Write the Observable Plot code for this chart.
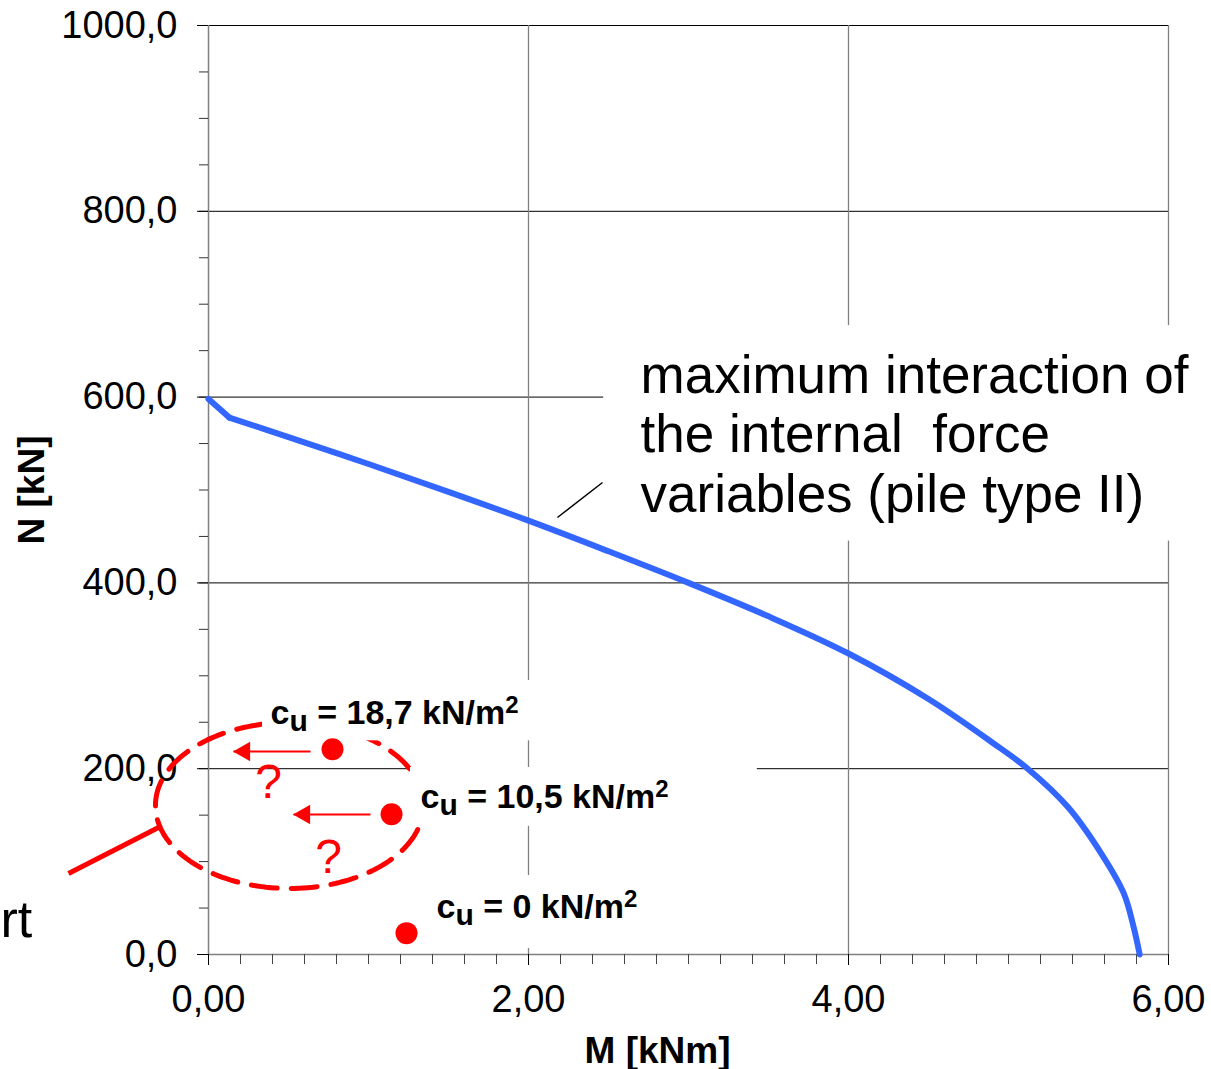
<!DOCTYPE html>
<html><head><meta charset="utf-8">
<script src="https://cdn.jsdelivr.net/npm/d3@7"></script>
<script src="https://cdn.jsdelivr.net/npm/@observablehq/plot@0.6"></script>
<style>body{margin:0;background:#fff} svg{display:block}</style>
</head><body><div id="chart"></div>
<script>
// Interaction curve (M in kNm, N in kN); the first segment is a straight kink
const curveM = [0, 0.13, 0.5, 1, 1.5, 2, 2.5, 3, 3.5, 4, 4.5, 4.9, 5.12, 5.37, 5.575, 5.72, 5.78, 5.82];
const curveN = [598, 578, 557, 528, 498, 467, 434, 400, 364, 324, 275, 228, 200, 159, 110, 66, 31, 0];

// Measured points
const pointM = [0.775, 1.144, 1.2375];
const pointN = [221, 151, 23];
const pointLabelMain = [" = 18,7 kN/m", " = 10,5 kN/m", " = 0 kN/m"];
const labelM = [0.3875, 1.325, 1.425];
const labelN = [274.5, 184, 65.7];
const labelBoxM1 = [0.3375, 1.2625, 1.3875];
const labelBoxM2 = [2.34, 3.43, 2.99];
const labelBoxN1 = [230, 138, 6.5];
const labelBoxN2 = [295, 201.3, 85];

// Arrows
const arrowStartM = [0.6375, 1.0125];
const arrowTipM = [0.156, 0.531];
const arrowN = [218.5, 150.7];

// Question marks
const questionM = [0.375, 0.75];
const questionN = [205, 124];

// Ellipse highlight
const ellipseCenter = {M: 0.506, N: 160.4};
const ellipseRadius = {M: 0.8375, N: 89.3};
const redLeaderM = [-0.875, -0.3125];
const redLeaderN = [87.2, 136.7];

// Annotation
const annotationText = "maximum interaction of\nthe internal  force\nvariables (pile type II)";
const annotationM = 2.7, annotationN = 650;
const annotationBox = {M1: 2.47, M2: 6.3, N1: 445, N2: 677};
const blackLeaderM = [2.181, 2.4625];
const blackLeaderN = [470.4, 508.1];
const cutText = "rt";
const cutM = -1.3, cutN = 58.1;

// Axes
const xMajorTicks = [0, 2, 4, 6];
const xMinorTicks = [0,0.2,0.4,0.6,0.8,1,1.2,1.4,1.6,1.8,2,2.2,2.4,2.6,2.8,3,3.2,3.4,3.6,3.8,4,4.2,4.4,4.6,4.8,5,5.2,5.4,5.6,5.8,6];
const yMajorTicks = [0, 200, 400, 600, 800, 1000];
const yMinorTicks = [0,50,100,150,200,250,300,350,400,450,500,550,600,650,700,750,800,850,900,950,1000];
const xTitle = "M [kNm]";
const yTitle = "N [kN]";

const curve = curveM.map((m, i) => ({M: m, N: curveN[i]}));
const curveHead = curve.slice(0, 2);
const curveBody = curve.slice(1);
const points = pointM.map((m, i) => ({M: m, N: pointN[i]}));
const labels = labelM.map((m, i) => ({M: m, N: labelN[i], text: "cu" + pointLabelMain[i] + "2"}));
const boxes = labelBoxM1.map((m, i) => ({x1: m, x2: labelBoxM2[i], y1: labelBoxN1[i], y2: labelBoxN2[i]}));
boxes.push({x1: annotationBox.M1, x2: annotationBox.M2, y1: annotationBox.N1, y2: annotationBox.N2});
const arrows = arrowStartM.map((m, i) => ({x1: m, x2: arrowTipM[i], y: arrowN[i]}));
const questions = questionM.map((m, i) => ({M: m, N: questionN[i]}));
const ellipse = d3.range(0, 361, 2).map(a => ({
  M: ellipseCenter.M + ellipseRadius.M * Math.cos(a * Math.PI / 180),
  N: ellipseCenter.N + ellipseRadius.N * Math.sin(a * Math.PI / 180)
}));

const fmtX = d => d.toFixed(2).replace(".", ",");
const fmtY = d => d.toFixed(1).replace(".", ",");

const chart = Plot.plot({
  width: 1211, height: 1069,
  marginLeft: 208, marginRight: 43, marginTop: 25, marginBottom: 115,
  x: {domain: [0, 6]},
  y: {domain: [0, 1000]},
  style: {fontFamily: "'Liberation Sans', Arial, sans-serif", background: "white", overflow: "visible"},
  marks: [
    Plot.ruleY(yMajorTicks.filter(d => d > 0), {stroke: "black", strokeWidth: 1}),
    Plot.ruleX(xMajorTicks.filter(d => d > 0), {stroke: "#808080", strokeWidth: 1.3}),
    Plot.ruleX([0], {stroke: "#808080", strokeWidth: 1.5}),
    Plot.ruleY([0], {stroke: "#808080", strokeWidth: 1.5}),
    Plot.axisY(yMinorTicks, {tickSize: 9, tickFormat: () => "", label: null, stroke: "#333"}),
    Plot.axisY(yMajorTicks, {tickSize: 11, tickPadding: 20, tickFormat: fmtY, fontSize: 38, label: null, stroke: "black"}),
    Plot.axisX(xMinorTicks, {tickSize: 10, tickFormat: () => "", label: null, stroke: "#444"}),
    Plot.axisX(xMajorTicks, {tickSize: 11, tickPadding: 20, tickFormat: fmtX, fontSize: 38, label: null, stroke: "black"}),
    // ellipse and leader
    Plot.line(ellipse, {x: "M", y: "N", stroke: "#ff0000", strokeWidth: 5, strokeDasharray: "26,14"}),
    Plot.link([0], {x1: () => redLeaderM[0], x2: () => redLeaderM[1], y1: () => redLeaderN[0], y2: () => redLeaderN[1], stroke: "#ff0000", strokeWidth: 5}),
    // boxes
    Plot.rect(boxes, {x1: "x1", x2: "x2", y1: "y1", y2: "y2", fill: "white"}),
    // curve
    Plot.line(curveHead, {x: "M", y: "N", stroke: "#3366ff", strokeWidth: 6, strokeLinecap: "round"}),
    Plot.line(curveBody, {x: "M", y: "N", stroke: "#3366ff", strokeWidth: 6, curve: "catmull-rom"}),
    // black leader
    Plot.link([0], {x1: () => blackLeaderM[0], x2: () => blackLeaderM[1], y1: () => blackLeaderN[0], y2: () => blackLeaderN[1], stroke: "black", strokeWidth: 1.5}),
    // arrows
    Plot.link(arrows, {x1: "x1", x2: "x2", y1: "y", y2: "y", stroke: "#ff0000", strokeWidth: 2}),
    Plot.dot(arrows, {x: "x2", y: "y", symbol: "triangle", r: 7.3, rotate: -90, fill: "#ff0000", stroke: "none", dx: 11}),
    // points
    Plot.dot(points, {x: "M", y: "N", r: 11, fill: "#ff0000", stroke: "none"}),
    // question marks
    Plot.text(questions, {x: "M", y: "N", text: () => "?", fill: "#ff0000", fontSize: 48, textAnchor: "middle", lineAnchor: "top"}),
    // labels
    Plot.text(labels, {x: "M", y: "N", text: "text", fontSize: 34, fontWeight: "bold", textAnchor: "start", lineAnchor: "top", fill: "black"}),
    // annotation
    Plot.text([annotationText], {x: () => annotationM, y: () => annotationN, text: d => d, fontSize: 53, lineHeight: 1.12, textAnchor: "start", lineAnchor: "top", fill: "black"}),
    Plot.text([cutText], {x: () => cutM, y: () => cutN, text: d => d, fontSize: 52, textAnchor: "start", lineAnchor: "top", fill: "black"}),
    // axis titles
    Plot.text([xTitle], {frameAnchor: "bottom", text: d => d, dx: -31, dy: 82, fontSize: 37, fontWeight: "bold", lineAnchor: "top", textAnchor: "middle"}),
    Plot.text([yTitle], {frameAnchor: "left", text: d => d, dx: -176, rotate: -90, fontSize: 37, fontWeight: "bold", lineAnchor: "middle", textAnchor: "middle"})
  ]
});

// subscript / superscript for c_u and m^2
chart.querySelectorAll("text").forEach(t => {
  const s = t.textContent;
  if (!s.startsWith("cu =")) return;
  const main = s.slice(2, -1);
  t.textContent = "";
  const mk = (txt, attrs) => {
    const ts = document.createElementNS("http://www.w3.org/2000/svg", "tspan");
    ts.textContent = txt;
    for (const k in attrs) ts.setAttribute(k, attrs[k]);
    t.appendChild(ts);
  };
  mk("c", {});
  mk("u", {dy: 7, "font-size": 30});
  mk(main, {dy: -7});
  mk("2", {dy: -11, "font-size": 24});
});

document.getElementById("chart").append(chart);
</script>
</body></html>
